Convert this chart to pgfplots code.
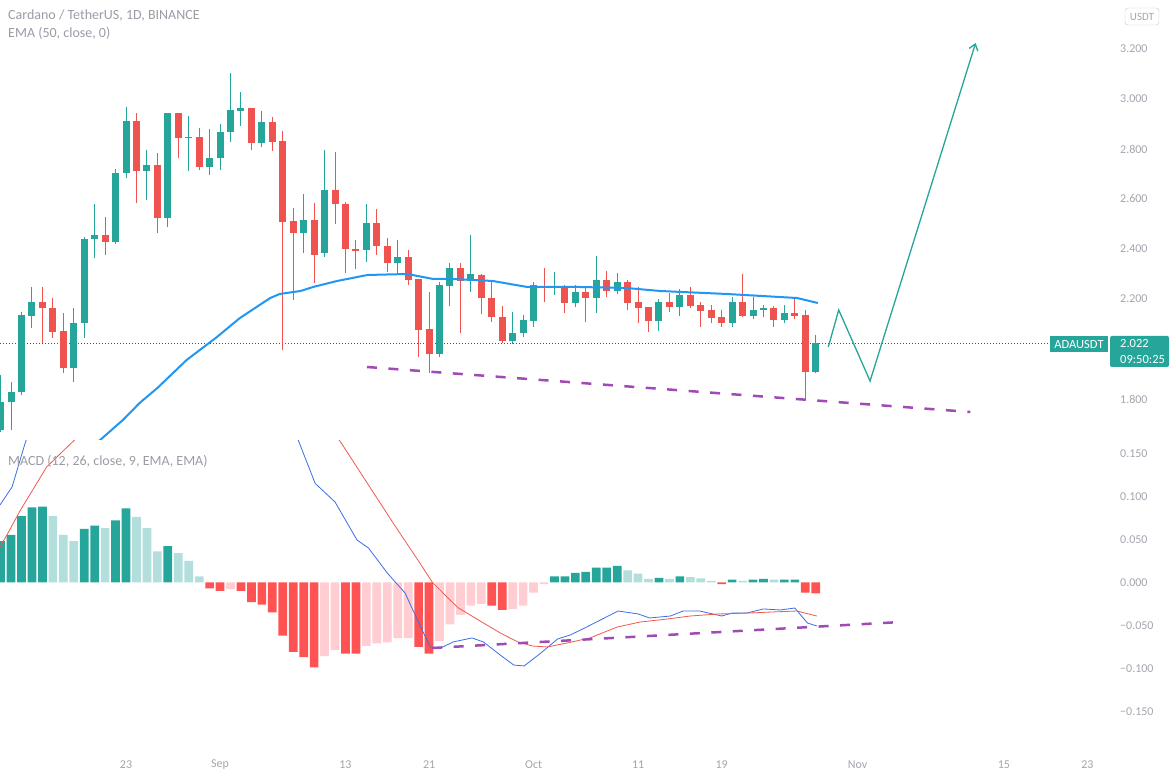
\documentclass[border=0pt]{standalone}
\usepackage{fontspec}
\setmainfont{Carlito}
\usepackage{pgfplots}
\pgfplotsset{compat=1.18}
\usepackage{pgfplotstable}
\usetikzlibrary{arrows.meta}

\definecolor{upc}{HTML}{26A69A}
\definecolor{dnc}{HTML}{EF5350}
\definecolor{emac}{HTML}{2196F3}
\definecolor{hdg}{HTML}{26A69A}
\definecolor{hlg}{HTML}{B2DFDB}
\definecolor{hdr}{HTML}{FF5252}
\definecolor{hlr}{HTML}{FFCDD2}
\definecolor{macdc}{HTML}{3B6EE8}
\definecolor{sigc}{HTML}{F05A4E}
\definecolor{trendc}{HTML}{A04BB5}
\definecolor{txtc}{HTML}{A3A6AF}
\definecolor{titlec}{HTML}{9A9DA6}

% day index = days since Aug 1 (Sep 1 = 31)
% d open high low close
\pgfplotstableread{
d o h l c
10 1.676 1.896 1.668 1.788
11 1.788 1.868 1.676 1.828
12 1.828 2.148 1.816 2.136
13 2.132 2.248 2.084 2.188
17 1.924 2.164 1.868 2.104
18 2.104 2.448 2.044 2.440
19 2.440 2.580 2.364 2.456
21 2.428 2.720 2.420 2.704
22 2.704 2.968 2.684 2.912
24 2.712 2.796 2.596 2.736
26 2.524 2.944 2.488 2.944
28 2.844 2.932 2.712 2.848
30 2.728 2.880 2.696 2.764
31 2.764 2.900 2.716 2.868
32 2.868 3.104 2.828 2.956
33 2.952 3.028 2.892 2.964
35 2.824 2.952 2.808 2.908
39 2.464 2.620 2.384 2.516
41 2.384 2.796 2.368 2.636
45 2.396 2.580 2.348 2.504
48 2.344 2.436 2.304 2.368
52 1.980 2.268 1.968 2.256
53 2.252 2.344 2.172 2.324
55 2.272 2.456 2.228 2.300
59 2.032 2.148 2.020 2.064
60 2.064 2.136 2.048 2.116
61 2.112 2.268 2.088 2.256
63 2.244 2.308 2.216 2.252
65 2.184 2.256 2.168 2.228
67 2.204 2.372 2.144 2.276
69 2.232 2.304 2.220 2.268
73 2.112 2.200 2.072 2.188
75 2.168 2.240 2.132 2.216
80 2.104 2.208 2.088 2.188
82 2.132 2.208 2.120 2.156
83 2.156 2.176 2.128 2.164
85 2.116 2.176 2.104 2.144
88 1.908 2.056 1.904 2.022
}\upcandles

\pgfplotstableread{
d o h l c
14 2.188 2.248 2.024 2.164
15 2.164 2.204 2.044 2.068
16 2.072 2.144 1.904 1.924
20 2.456 2.528 2.376 2.428
23 2.912 2.944 2.584 2.712
25 2.736 2.784 2.464 2.524
27 2.944 2.944 2.764 2.844
29 2.848 2.884 2.716 2.728
34 2.964 2.964 2.796 2.824
36 2.908 2.928 2.792 2.828
37 2.832 2.872 1.996 2.508
38 2.512 2.564 2.196 2.464
40 2.516 2.584 2.264 2.376
42 2.636 2.788 2.500 2.580
43 2.580 2.588 2.304 2.400
44 2.400 2.436 2.320 2.392
46 2.504 2.560 2.376 2.412
47 2.412 2.444 2.308 2.344
49 2.368 2.396 2.256 2.276
50 2.280 2.280 1.968 2.076
51 2.080 2.228 1.904 1.980
54 2.324 2.344 2.064 2.272
56 2.296 2.300 2.140 2.204
57 2.204 2.268 2.108 2.128
58 2.128 2.172 2.024 2.032
62 2.252 2.324 2.188 2.244
64 2.248 2.256 2.144 2.184
66 2.228 2.244 2.108 2.204
68 2.276 2.312 2.208 2.232
70 2.268 2.276 2.156 2.184
71 2.188 2.248 2.104 2.164
72 2.168 2.168 2.068 2.112
74 2.188 2.224 2.148 2.168
76 2.216 2.248 2.164 2.172
77 2.176 2.188 2.088 2.152
78 2.156 2.176 2.104 2.124
79 2.128 2.156 2.088 2.104
81 2.188 2.300 2.128 2.132
84 2.164 2.172 2.088 2.116
86 2.144 2.200 2.120 2.132
87 2.136 2.156 1.796 1.908
}\dncandles

% MACD histogram, split by colour
\pgfplotstableread{
d v
10 0.048
11 0.055
12 0.077
13 0.087
14 0.088
18 0.062
19 0.066
21 0.072
22 0.086
26 0.042
63 0.007
64 0.007
65 0.011
66 0.012
67 0.017
68 0.017
69 0.019
73 0.005
75 0.007
80 0.003
82 0.003
83 0.004
85 0.003
86 0.003
}\histdg
\pgfplotstableread{
d v
15 0.077
16 0.055
17 0.048
20 0.063
23 0.076
24 0.063
25 0.036
27 0.034
28 0.025
29 0.007
70 0.014
71 0.010
72 0.004
74 0.004
76 0.006
77 0.0045
78 0.0015
81 0.0015
84 0.003
}\histlg
\pgfplotstableread{
d v
30 -0.007
31 -0.010
33 -0.010
34 -0.023
35 -0.026
36 -0.035
37 -0.062
38 -0.081
39 -0.087
40 -0.099
43 -0.083
44 -0.083
50 -0.075
51 -0.083
57 -0.027
58 -0.032
79 -0.002
87 -0.012
88 -0.013
}\histdr
\pgfplotstableread{
d v
32 -0.008
41 -0.086
42 -0.079
45 -0.074
46 -0.071
47 -0.070
48 -0.065
49 -0.065
52 -0.068
53 -0.049
54 -0.038
55 -0.027
56 -0.025
59 -0.031
60 -0.027
61 -0.012
62 -0.002
}\histlr

\pgfplotsset{
  tvaxis/.style={
    scale only axis, width=1110pt,
    xmin=9.94, xmax=116.16,
    axis line style={draw=none},
    major tick length=0pt,
    tick label style={font=\fontsize{12}{14}\selectfont, text=txtc},
    /pgf/number format/assume math mode=true,
    yticklabel pos=right,
    yticklabel style={anchor=west, inner sep=0pt, xshift=10pt},
  },
  wick/.style={only marks, mark size=0pt, mark options={draw=none, fill=none}, forget plot,
    error bars/.cd, y dir=plus, y explicit, error mark=none,
    error bar style={line width=1pt, color=#1}},
  body/.style={only marks, mark size=0pt, mark options={draw=none, fill=none}, forget plot,
    error bars/.cd, y dir=plus, y explicit, error mark=none,
    error bar style={line width=7pt, color=#1}},
  hbar/.style={ybar, bar width=0.83, bar shift=0pt, fill=#1, draw=none, forget plot},
}

\begin{document}
\begin{tikzpicture}[x=1pt, y=1pt]
\fill[white] (0,0) rectangle (1174,778);

% price panel
\begin{axis}[tvaxis, at={(0pt,338pt)}, anchor=south west, height=440pt,
  ymin=1.636, ymax=3.396, xtick=\empty,
  ytick={1.8,2.2,2.4,2.6,2.8,3.0,3.2},
  yticklabel style={/pgf/number format/fixed, /pgf/number format/fixed zerofill, /pgf/number format/precision=3}]
\addplot[color=upc!60!black, line width=1pt, dash pattern=on 1pt off 2pt]
  coordinates {(9.94,2.022) (110.4,2.022)};
\addplot[wick=upc] table[x=d, y=l, y error expr=\thisrow{h}-\thisrow{l}] {\upcandles};
\addplot[body=upc] table[x=d, y=o, y error expr=\thisrow{c}-\thisrow{o}] {\upcandles};
\addplot[wick=dnc] table[x=d, y=l, y error expr=\thisrow{h}-\thisrow{l}] {\dncandles};
\addplot[body=dnc] table[x=d, y=c, y error expr=\thisrow{o}-\thisrow{c}] {\dncandles};
\addplot[color=emac, line width=2pt] coordinates {
  (14.7,1.43) (19.2,1.624) (20.5,1.672) (21.7,1.716) (23.3,1.784) (25,1.844)
  (27.8,1.956) (30.7,2.048) (32.9,2.124) (35.8,2.204) (36.7,2.22) (38.7,2.232)
  (39.9,2.248) (42.2,2.272) (45.1,2.296) (48.9,2.3) (51.4,2.28) (53.3,2.28)
  (57.1,2.272) (60.4,2.248) (65.4,2.248) (69.9,2.244) (73.1,2.232) (79.5,2.22)
  (86.2,2.204) (88.2,2.184)};
\addplot[color=trendc, line width=2.5pt, dash pattern=on 10pt off 11.5pt]
  coordinates {(45.06,1.928) (102.8,1.748)};
\addplot[color=upc, line width=1.3pt, -{Straight Barb[length=6pt, width=9pt]}]
  coordinates {(89.2,2.008) (90.2,2.156) (93.2,1.872) (103.3,3.224)};
\end{axis}

% MACD panel
\begin{axis}[tvaxis, at={(0pt,33pt)}, anchor=south west, height=304pt,
  ymin=-0.1892, ymax=0.1643,
  ytick={-0.15,-0.1,-0.05,0,0.05,0.1,0.15},
  yticklabels={−0.150,−0.100,−0.050,0.000,0.050,0.100,0.150},
  xtick={22,31,43,51,61,71,79,92,106,114},
  xticklabels={23,Sep,13,21,Oct,11,19,Nov,15,23},
  xticklabel style={anchor=center, yshift=-20pt}]
\addplot[hbar=hdg] table[x=d, y=v] {\histdg};
\addplot[hbar=hlg] table[x=d, y=v] {\histlg};
\addplot[hbar=hdr] table[x=d, y=v] {\histdr};
\addplot[hbar=hlr] table[x=d, y=v] {\histlr};
\addplot[color=macdc, line width=0.8pt] coordinates {
  (9.94,0.0899) (11.1,0.111) (12.3,0.160) (13.7,0.21) (37.0,0.21) (38.65,0.160)
  (40.1,0.115) (42.0,0.0934) (44.1,0.0492) (45.2,0.0399) (47.0,0.0108) (48.7,-0.0124)
  (50.2,-0.052) (51.1,-0.0752) (52.1,-0.0764) (53.3,-0.0694) (55.1,-0.0647) (56.2,-0.0694)
  (57.8,-0.0845) (59.1,-0.0962) (60.1,-0.0973) (61.7,-0.0822) (63.3,-0.0659) (64.5,-0.0613)
  (65.9,-0.0531) (67.4,-0.0438) (69.1,-0.0334) (71.0,-0.0368) (72.1,-0.0415) (74.1,-0.0392)
  (75.3,-0.0334) (76.9,-0.0334) (79.0,-0.0392) (80.0,-0.0357) (81.4,-0.0357) (83.0,-0.0310)
  (84.6,-0.0322) (86.0,-0.0299) (87.2,-0.0473) (88.1,-0.0508)};
\addplot[color=sigc, line width=0.8pt] coordinates {
  (9.94,0.041) (10.6,0.055) (11.9,0.084) (14.4,0.134) (16.6,0.160) (20.9,0.21)
  (39.9,0.21) (42.7,0.160) (45.1,0.115) (47.5,0.0701) (49.8,0.0282) (51.3,0.0003)
  (53.0,-0.0206) (53.8,-0.0298) (56.2,-0.0473) (57.8,-0.0589) (59.5,-0.0694) (60.9,-0.0741)
  (62.3,-0.0752) (64.2,-0.0706) (66.4,-0.0647) (69.0,-0.0520) (71.2,-0.0462) (73.8,-0.0427)
  (76.0,-0.0392) (78.6,-0.0369) (81.7,-0.0357) (83.9,-0.0345) (86.2,-0.0334) (88.1,-0.0392)};
\addplot[color=trendc, line width=2.5pt, dash pattern=on 10pt off 11.5pt]
  coordinates {(51.3,-0.0764) (96.1,-0.0462)};
\end{axis}

% labels
\node[anchor=west, inner sep=0pt, text=titlec, font=\fontsize{14}{16}\selectfont] at (8,762) {Cardano / TetherUS, 1D, BINANCE};
\node[anchor=west, inner sep=0pt, text=titlec, font=\fontsize{14}{16}\selectfont] at (8,745) {EMA (50, close, 0)};
\node[anchor=west, inner sep=0pt, text=titlec, font=\fontsize{14}{16}\selectfont] at (8,317) {MACD (12, 26, close, 9, EMA, EMA)};

\draw[rounded corners=3pt, draw=txtc!60, fill=white] (1125,753) rectangle (1159,770);
\node[text=txtc, font=\fontsize{11}{13}\selectfont] at (1142,761.5) {USDT};

\fill[upc] (1050,426) rectangle (1108,442);
\node[text=white, font=\fontsize{12.5}{14}\selectfont] at (1079,434) {ADAUSDT};
\fill[upc, rounded corners=2pt] (1110,411) rectangle (1169,442);
\node[anchor=west, inner sep=0pt, text=white, font=\fontsize{12.5}{14}\selectfont] at (1120,434) {2.022};
\node[anchor=west, inner sep=0pt, text=white, font=\fontsize{12.5}{14}\selectfont] at (1120,418) {09:50:25};

\pgfresetboundingbox
\useasboundingbox (0,0) rectangle (1174,778);
\end{tikzpicture}
\end{document}
